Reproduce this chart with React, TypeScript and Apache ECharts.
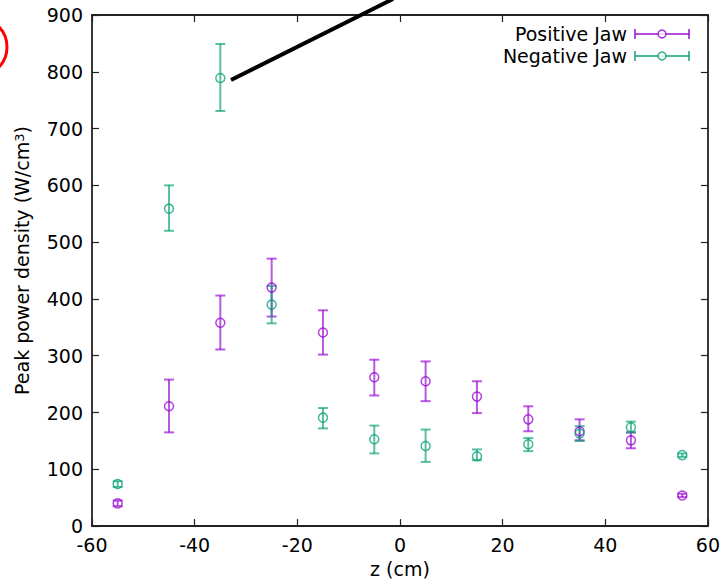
import React, { useEffect, useRef } from "react";
import * as echarts from "echarts";

const zPositions = [-55, -45, -35, -25, -15, -5, 5, 15, 25, 35, 45, 55];
const positiveJaw = [40, 211, 358, 420, 341, 262, 255, 228, 188, 167, 151, 54];
const positiveLow = [35, 165, 311, 369, 302, 230, 220, 199, 167, 151, 137, 51];
const positiveHigh = [45, 258, 406, 471, 380, 293, 290, 255, 211, 188, 165, 57];
const negativeJaw = [74, 559, 789, 390, 191, 153, 141, 123, 144, 163, 174, 125];
const negativeLow = [69, 520, 731, 357, 172, 128, 113, 116, 132, 150, 165, 122];
const negativeHigh = [79, 600, 849, 423, 208, 177, 170, 135, 155, 176, 184, 128];
const xTicks = [-60, -40, -20, 0, 20, 40, 60];
const yTicks = [0, 100, 200, 300, 400, 500, 600, 700, 800, 900];

const PURPLE = "#9400d3";
const TEAL = "#009e73";
const FONT = "DejaVu Sans";
const FS = 19;

function errorSeries(name: string, color: string, vals: number[], lo: number[], hi: number[]) {
  const data = zPositions.map((z, i) => [z, vals[i], lo[i], hi[i]]);
  return {
    name: name + " err",
    type: "custom",
    data,
    z: 3,
    renderItem: (params: any, api: any) => {
      const x = api.value(0);
      const top = api.coord([x, api.value(3)]);
      const bot = api.coord([x, api.value(2)]);
      const cap = 5;
      const style = { stroke: color, lineWidth: 2, opacity: 0.65 };
      return {
        type: "group",
        children: [
          { type: "line", shape: { x1: top[0], y1: top[1], x2: bot[0], y2: bot[1] }, style },
          { type: "line", shape: { x1: top[0] - cap, y1: top[1], x2: top[0] + cap, y2: top[1] }, style },
          { type: "line", shape: { x1: bot[0] - cap, y1: bot[1], x2: bot[0] + cap, y2: bot[1] }, style },
        ],
      };
    },
  };
}

function pointSeries(name: string, color: string, vals: number[]) {
  return {
    name,
    type: "scatter",
    data: zPositions.map((z, i) => [z, vals[i]]),
    symbol: "circle",
    symbolSize: 9,
    z: 4,
    itemStyle: { color: "rgba(0,0,0,0)", borderColor: color, borderWidth: 1.5, opacity: 0.75 },
  };
}

function legendRow(label: string, color: string, y: number) {
  const style = { stroke: color, lineWidth: 2, opacity: 0.7 };
  return [
    { type: "text", x: 627, y, style: { text: label, font: `${FS}px '${FONT}'`, fill: "#000", align: "right", verticalAlign: "middle" } },
    { type: "line", shape: { x1: 635, y1: y, x2: 689, y2: y }, style },
    { type: "line", shape: { x1: 635, y1: y - 5, x2: 635, y2: y + 5 }, style },
    { type: "line", shape: { x1: 689, y1: y - 5, x2: 689, y2: y + 5 }, style },
    { type: "circle", shape: { cx: 662, cy: y, r: 4 }, style: { stroke: color, lineWidth: 1.5, fill: "#fff", opacity: 0.8 } },
  ];
}

export default function App() {
  const ref = useRef<HTMLDivElement>(null);
  useEffect(() => {
    document.body.style.margin = "0";
    const chart = echarts.init(ref.current!, null, { renderer: "svg" });
    const axisLine = { show: true, onZero: false, lineStyle: { color: "#222", width: 1.8 } };
    const tick = { show: true, inside: true, length: 7, lineStyle: { color: "#222", width: 1.2 } };
    const label = { color: "#000", fontSize: FS, fontFamily: FONT };
    chart.setOption({
      animation: false,
      backgroundColor: "#fff",
      grid: { left: 92, top: 15, right: 14, bottom: 56, containLabel: false },
      xAxis: [
        {
          type: "value", min: xTicks[0], max: xTicks[xTicks.length - 1], interval: 20, position: "bottom",
          axisLine, axisTick: tick, splitLine: { show: false },
          axisLabel: { ...label, margin: 9 },
          name: "z (cm)", nameLocation: "middle", nameGap: 29,
          nameTextStyle: { color: "#000", fontSize: FS, fontFamily: FONT },
        },
        {
          type: "value", min: xTicks[0], max: xTicks[xTicks.length - 1], interval: 20, position: "top",
          axisLine, axisTick: tick, splitLine: { show: false }, axisLabel: { show: false },
        },
      ],
      yAxis: [
        {
          type: "value", min: yTicks[0], max: yTicks[yTicks.length - 1], interval: 100, position: "left",
          axisLine, axisTick: tick, splitLine: { show: false },
          axisLabel: { ...label, margin: 9 },
          name: "Peak power density (W/cm{sup|3})", nameLocation: "middle", nameGap: 60, nameRotate: 90,
          nameTextStyle: {
            color: "#000", fontSize: FS, fontFamily: FONT, padding: [0, 0, 0, 20],
            rich: { sup: { fontSize: 13, fontFamily: FONT, color: "#000", verticalAlign: "top", lineHeight: 10, padding: [0, 0, 10, 0] } },
          },
        },
        {
          type: "value", min: yTicks[0], max: yTicks[yTicks.length - 1], interval: 100, position: "right",
          axisLine, axisTick: tick, splitLine: { show: false }, axisLabel: { show: false },
        },
      ],
      series: [
        errorSeries("Positive Jaw", PURPLE, positiveJaw, positiveLow, positiveHigh),
        errorSeries("Negative Jaw", TEAL, negativeJaw, negativeLow, negativeHigh),
        pointSeries("Positive Jaw", PURPLE, positiveJaw),
        pointSeries("Negative Jaw", TEAL, negativeJaw),
      ],
      graphic: [
        ...legendRow("Positive Jaw", PURPLE, 34),
        ...legendRow("Negative Jaw", TEAL, 56),
        { type: "line", shape: { x1: 231, y1: 80, x2: 393, y2: -1 }, style: { stroke: "#000", lineWidth: 4 }, z: 10 },
        { type: "ellipse", shape: { cx: -19, cy: 47, rx: 26, ry: 28 }, style: { stroke: "#ff0000", lineWidth: 3, fill: "none" }, z: 10 },
      ],
    });
    return () => chart.dispose();
  }, []);
  return <div ref={ref} style={{ width: 723, height: 583 }} />;
}
